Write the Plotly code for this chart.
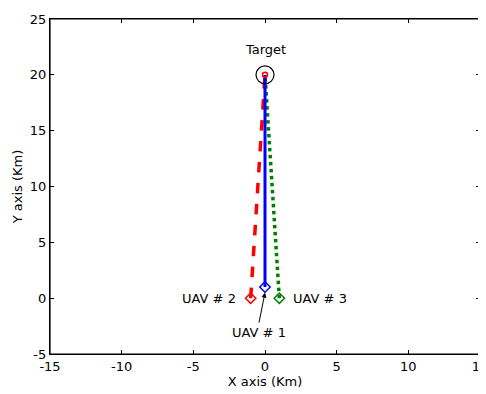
import plotly.graph_objects as go

# Trajectories (Km)
uav1_x = [0, 0]
uav1_y = [1, 20]
uav2_x = [-1, 0]
uav2_y = [0, 20]
uav3_x = [1, 0]
uav3_y = [0, 20]
target_x = [0]
target_y = [20]
x_ticks = [-15, -10, -5, 0, 5, 10, 15]
y_ticks = [-5, 0, 5, 10, 15, 20, 25]
x_ticktext = ["-15", "-10", "-5", "0", "5", "10", "15"]
y_ticktext = ["-5", "0", "5", "10", "15", "20", "25"]

FONT = "DejaVu Sans"

fig = go.Figure()
fig.add_trace(go.Scatter(x=uav2_x, y=uav2_y, mode="lines",
                         line=dict(color="red", width=3.5, dash="dash"), showlegend=False))
fig.add_trace(go.Scatter(x=uav3_x, y=uav3_y, mode="lines",
                         line=dict(color="green", width=3.5, dash="dot"), showlegend=False))
fig.add_trace(go.Scatter(x=uav1_x, y=uav1_y, mode="lines",
                         line=dict(color="blue", width=3), showlegend=False))
# start markers
fig.add_trace(go.Scatter(x=[uav2_x[0]], y=[uav2_y[0]], mode="markers",
                         marker=dict(symbol="diamond-open", color="red", size=8, line=dict(width=1.5)), showlegend=False))
fig.add_trace(go.Scatter(x=[uav3_x[0]], y=[uav3_y[0]], mode="markers",
                         marker=dict(symbol="diamond-open", color="green", size=8, line=dict(width=1.5)), showlegend=False))
fig.add_trace(go.Scatter(x=[uav1_x[0]], y=[uav1_y[0]], mode="markers",
                         marker=dict(symbol="diamond-open", color="blue", size=8, line=dict(width=1.5)), showlegend=False))
# target
fig.add_trace(go.Scatter(x=target_x, y=target_y, mode="markers",
                         marker=dict(symbol="circle-open", color="black", size=18, line=dict(width=1.2)), showlegend=False))
fig.add_trace(go.Scatter(x=target_x, y=target_y, mode="markers",
                         marker=dict(symbol="circle-open", color="red", size=5, line=dict(width=1.5)), showlegend=False))

tf = dict(family=FONT, size=13, color="black")
fig.add_annotation(x=0, y=22.3, text="Target", showarrow=False, font=tf)
fig.add_annotation(x=-1.9, y=0, text="UAV # 2", showarrow=False, font=tf, xanchor="right")
fig.add_annotation(x=1.8, y=0, text="UAV # 3", showarrow=False, font=tf, xanchor="left")
fig.add_annotation(x=0, y=0.5, text="UAV # 1", showarrow=True, arrowhead=2, arrowsize=1,
                   arrowwidth=1, arrowcolor="black", ax=-6, ay=30, font=tf,
                   yanchor="top")

axis_common = dict(showgrid=False, zeroline=False, showline=True, linecolor="black",
                   linewidth=1.2, mirror="ticks", ticks="inside", ticklen=4,
                   tickcolor="black", tickfont=tf, automargin=False,
                   ticklabeloverflow="allow")
fig.update_xaxes(range=[-15, 15], tickvals=x_ticks, ticktext=x_ticktext,
                 title=dict(text="X axis (Km)", font=tf, standoff=0), **axis_common)
fig.update_yaxes(range=[-5, 25], tickvals=y_ticks, ticktext=y_ticktext,
                 title=dict(text="Y axis (Km)", font=tf, standoff=4), **axis_common)

# frame box around the plot area
fig.add_shape(type="rect", xref="x domain", yref="y domain", x0=0, x1=1, y0=0, y1=1,
              line=dict(color="black", width=1.2), layer="above")

# page body has an 8px margin: shrink the figure so the plot area lands where the reference has it
fig.update_layout(width=478, height=386, margin=dict(l=42, r=6, t=11, b=40),
                  plot_bgcolor="white", paper_bgcolor="white",
                  font=dict(family=FONT, size=13, color="black"))
fig.write_html("out.html")
